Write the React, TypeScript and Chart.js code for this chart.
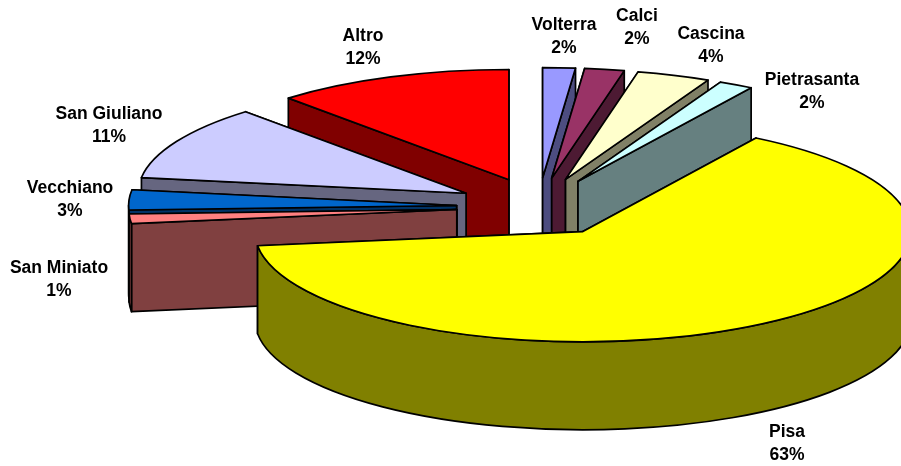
import React, { useEffect, useRef } from "react";
import { Chart, registerables } from "chart.js";

Chart.register(...registerables);

const categories = ["Volterra", "Calci", "Cascina", "Pietrasanta", "Pisa", "San Miniato", "Vecchiano", "San Giuliano", "Altro"];
const shares = [1.6, 1.95, 3.6, 1.7, 64.1, 1.4, 2.93, 10.98, 11.74];
const percentLabels = ["2%", "2%", "4%", "2%", "63%", "1%", "3%", "11%", "12%"];
const topColors = ["#9999ff", "#993366", "#ffffcc", "#ccffff", "#ffff00", "#ff8080", "#0066cc", "#ccccff", "#ff0000"];
const wallColors = ["#4d4d80", "#4d1a33", "#808066", "#668080", "#808000", "#804040", "#003366", "#666680", "#800000"];

// painter's order: back slices first
const paintOrder = [8, 7, 6, 5, 0, 1, 2, 3, 4];
// label centre (first line) for each category
const labelAnchors = [
  [564, 25], [637, 16], [711, 34], [812, 80], [787, 432], [59, 268], [70, 188], [109, 114], [363, 36],
];

const W = 901;
const H = 466;
const RADIUS = 328;
const SQUASH = 0.336;
const CENTER_X = 538.5;
const CENTER_Y = 207;
const EXPLODE = 82;
const EXPLODE_SQUASH = 0.357;
const DEPTH = 88;
const LINE = 1.7;
const LINE_HEIGHT = 23;

const pie3d = {
  id: "pie3d",
  beforeDatasetDraw() {
    return false;
  },
  afterDatasetsDraw(chart: any) {
    const ctx = chart.ctx;
    const arcs = chart.getDatasetMeta(0).data;
    const ry = RADIUS * SQUASH;
    ctx.lineJoin = "round";
    ctx.strokeStyle = "#000";
    ctx.lineWidth = LINE;

    for (const i of paintOrder) {
      const arc = arcs[i];
      const { x, y, startAngle, endAngle } = arc.getProps(["x", "y", "startAngle", "endAngle"], true);
      const mid = (startAngle + endAngle) / 2;
      const ax = CENTER_X + EXPLODE * Math.cos(mid);
      const ay = CENTER_Y + EXPLODE * EXPLODE_SQUASH * Math.sin(mid);
      const pt = (a: number) => [ax + RADIUS * Math.cos(a), ay + ry * Math.sin(a)];

      const radialWall = (a: number) => {
        const [px, py] = pt(a);
        ctx.beginPath();
        ctx.moveTo(ax, ay);
        ctx.lineTo(px, py);
        ctx.lineTo(px, py + DEPTH);
        ctx.lineTo(ax, ay + DEPTH);
        ctx.closePath();
        ctx.fillStyle = wallColors[i];
        ctx.fill();
        ctx.stroke();
      };
      const frontIsEnd = Math.cos(mid) > 0;
      radialWall(frontIsEnd ? startAngle : endAngle);
      radialWall(frontIsEnd ? endAngle : startAngle);

      // curved outer wall: only the part that faces the viewer
      const ranges = [[0, Math.PI], [2 * Math.PI, 3 * Math.PI], [-2 * Math.PI, -Math.PI]];
      for (const [lo, hi] of ranges) {
        const a0 = Math.max(startAngle, lo);
        const a1 = Math.min(endAngle, hi);
        if (a1 <= a0) continue;
        ctx.beginPath();
        ctx.ellipse(ax, ay, RADIUS, ry, 0, a0, a1);
        ctx.ellipse(ax, ay + DEPTH, RADIUS, ry, 0, a1, a0, true);
        ctx.closePath();
        ctx.fillStyle = wallColors[i];
        ctx.fill();
        ctx.stroke();
      }

      // top face: the library's own arc element, squashed into an ellipse
      ctx.save();
      ctx.translate(ax, ay);
      ctx.scale(1, SQUASH);
      ctx.translate(-x, -y);
      arc.draw(ctx);
      ctx.restore();

      ctx.beginPath();
      ctx.moveTo(ax, ay);
      ctx.ellipse(ax, ay, RADIUS, ry, 0, startAngle, endAngle);
      ctx.closePath();
      ctx.stroke();
    }

    // data labels
    ctx.fillStyle = "#000";
    ctx.font = 'bold 17.5px "Liberation Sans", Arial, sans-serif';
    ctx.textAlign = "center";
    ctx.textBaseline = "middle";
    categories.forEach((name, i) => {
      const [lx, ly] = labelAnchors[i];
      ctx.fillText(name, lx, ly);
      ctx.fillText(percentLabels[i], lx, ly + LINE_HEIGHT);
    });
  },
};

export default function App() {
  const ref = useRef<HTMLCanvasElement | null>(null);
  useEffect(() => {
    document.body.style.margin = "0";
    document.body.style.background = "#fff";
    const chart = new Chart(ref.current as HTMLCanvasElement, {
      type: "pie",
      data: {
        labels: categories,
        datasets: [{ data: shares, backgroundColor: topColors, borderWidth: 0, radius: RADIUS } as any],
      },
      options: {
        responsive: false,
        animation: false,
        rotation: 0,
        layout: { padding: 0 },
        plugins: { legend: { display: false }, tooltip: { enabled: false }, title: { display: false } },
      },
      plugins: [pie3d as any],
    } as any);
    return () => chart.destroy();
  }, []);
  return (
    <div style={{ width: W, height: H, overflow: "hidden" }}>
      <canvas ref={ref} width={W} height={H} style={{ display: "block" }} />
    </div>
  );
}
